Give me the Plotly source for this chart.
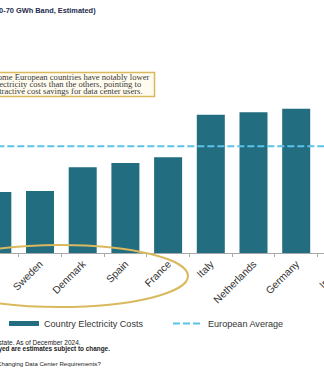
import plotly.graph_objects as go

# Industrial electricity costs, 20-70 GWh consumption band (EUR/kWh, estimated)
countries = ["Finland", "Sweden", "Denmark", "Spain", "France",
             "Italy", "Netherlands", "Germany", "Ireland"]
costs_eur_kwh = [0.072, 0.073, 0.101, 0.106, 0.113, 0.163, 0.166, 0.170, 0.190]
european_average = 0.126

legend_names = ["Country Electricity Costs", "European Average"]
callout_lines = [
    "Some European countries have notably lower",
    "electricity costs than the others, pointing to",
    "attractive cost savings for data center users.",
]
title_text = "Electricity Costs for Data Centers (20-70 GWh Band, Estimated)"
footnotes = [
    ("Source: Data Center Real Estate. As of December 2024.", False),
    ("Note: Figures displayed are estimates subject to change.", True),
    ("Source: How Is AI Changing Data Center Requirements?", False),
]

TEAL = "#236D81"
AVG_BLUE = "#5BC3E8"
GOLD = "#D9B85E"
SANS = "Liberation Sans, Arial, sans-serif"
SERIF = "Liberation Serif, Times New Roman, serif"

W, H = 324, 389
M_L, M_R, M_T, M_B = 0, 0, 41, 136
PLOT_W = W - M_L - M_R
PLOT_H = H - M_T - M_B
X_RANGE = [0.063, 7.651]
Y_RANGE = [0, 0.25]


def px_x(px):
    return (px - M_L) / PLOT_W


def px_y(py):
    return (H - M_B - py) / PLOT_H


fig = go.Figure()

fig.add_trace(go.Bar(
    x=countries, y=costs_eur_kwh, marker=dict(color=TEAL, line=dict(width=0)),
    showlegend=False, name=legend_names[0],
))
# legend key for the bars (wide flat swatch)
fig.add_trace(go.Scatter(
    x=[None], y=[None], mode="lines", line=dict(color=TEAL, width=5),
    name=legend_names[0], legend="legend",
))
fig.add_trace(go.Scatter(
    x=countries, y=[european_average] * len(countries), mode="lines",
    line=dict(color=AVG_BLUE, width=2, dash="7px,3px"), name=legend_names[1],
    hoverinfo="skip", legend="legend2",
))

shapes = [
    # highlight ring round the low-cost countries
    dict(type="circle", xref="paper", yref="paper",
         x0=px_x(-68), x1=px_x(188), y0=px_y(307), y1=px_y(245),
         line=dict(color=GOLD, width=2), layer="above"),
    # callout box
    dict(type="rect", xref="paper", yref="paper",
         x0=px_x(-40), x1=px_x(154.5), y0=px_y(96.5), y1=px_y(72.5),
         fillcolor="#FFFCEF", line=dict(color=GOLD, width=1.5), layer="above"),
]

annotations = []
for i, line in enumerate(callout_lines):
    annotations.append(dict(
        xref="paper", yref="paper", x=px_x(-9.5), y=px_y(76.6 + 7.4 * i),
        xanchor="left", yanchor="middle", showarrow=False, align="left",
        text=line, font=dict(family=SERIF, size=8.6, color="#3A3A3A"),
    ))

annotations.append(dict(
    xref="paper", yref="paper", x=px_x(97.5), y=px_y(10),
    xanchor="right", yanchor="middle", showarrow=False,
    text="<b>" + title_text + "</b>",
    font=dict(family=SANS, size=7.4, color="#1D2B4C"),
))

foot_y = [342, 348.5, 363]
foot_right = [83, 112, 103]
foot_size = [6.5, 6.4, 6.1]
for i, (text, bold) in enumerate(footnotes):
    annotations.append(dict(
        xref="paper", yref="paper", x=px_x(foot_right[i]), y=px_y(foot_y[i]),
        xanchor="right", yanchor="middle", showarrow=False,
        text=("<b>%s</b>" % text) if bold else text,
        font=dict(family=SANS, size=foot_size[i], color="#222222"),
    ))

# label of the category lying just past the right edge of the plot
last = len(countries) - 1
annotations.append(dict(
    xref="paper", yref="paper",
    x=(last - X_RANGE[0]) / (X_RANGE[1] - X_RANGE[0]) + 11 / PLOT_W, y=px_y(257),
    xanchor="right", yanchor="top", showarrow=False, textangle=-45,
    text=countries[last], font=dict(family=SANS, size=10.3, color="#333333"),
))

legend_common = dict(
    orientation="h", yanchor="middle", xanchor="left", y=px_y(323.5),
    font=dict(family=SANS, size=9.1, color="#333333"),
    bgcolor="rgba(0,0,0,0)", itemwidth=30,
)

fig.update_layout(
    width=W, height=H, autosize=False,
    margin=dict(l=M_L, r=M_R, t=M_T, b=M_B, pad=0),
    paper_bgcolor="white", plot_bgcolor="white",
    bargap=0.344,
    showlegend=True,
    legend=dict(x=px_x(4), **legend_common),
    legend2=dict(x=px_x(168), **legend_common),
    xaxis=dict(
        type="category", range=X_RANGE, showgrid=False, zeroline=False,
        showline=True, linecolor="#A8A8A8", linewidth=1,
        ticks="outside", ticklen=3, tickcolor="#A8A8A8", tickson="boundaries",
        tickangle=-45, tickfont=dict(family=SANS, size=10.3, color="#333333"),
        fixedrange=True,
    ),
    yaxis=dict(range=Y_RANGE, visible=False, fixedrange=True),
    shapes=shapes,
    annotations=annotations,
)

fig.write_html("out.html")
